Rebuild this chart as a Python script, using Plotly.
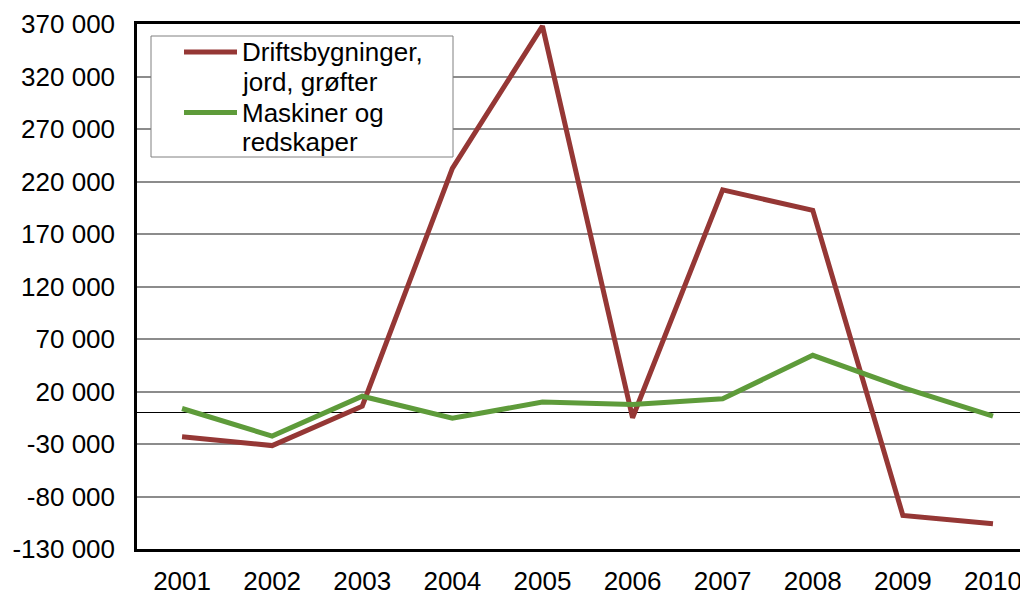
import plotly.graph_objects as go

years = [2001, 2002, 2003, 2004, 2005, 2006, 2007, 2008, 2009, 2010]
drifts = [-23000, -31500, 6000, 232500, 368000, -5000, 212000, 192500, -98000, -106000]
maskiner = [3800, -22500, 15500, -5500, 10000, 7700, 13000, 54500, 23600, -3500]

ytick_vals = [-130000, -80000, -30000, 20000, 70000, 120000, 170000, 220000, 270000, 320000, 370000]
ytick_text = ["-130 000", "-80 000", "-30 000", "20 000", "70 000", "120 000", "170 000",
              "220 000", "270 000", "320 000", "370 000"]

red_lines = ["Driftsbygninger,", "jord, grøfter"]
green_lines = ["Maskiner og", "redskaper"]
RED = "#953735"
GREEN = "#5e9b3a"

W, H = 1020, 593
ML, MR, MT, MB = 137, 0, 24, 44
PW, PH = W - ML - MR, H - MT - MB


def px(xp):
    return (xp - ML) / PW


def py(yp):
    return (H - MB - yp) / PH


fig = go.Figure()
fig.add_trace(go.Scatter(x=years, y=drifts, mode="lines", name=" ".join(red_lines),
                         line=dict(color=RED, width=5), showlegend=False))
fig.add_trace(go.Scatter(x=years, y=maskiner, mode="lines", name=" ".join(green_lines),
                         line=dict(color=GREEN, width=5), showlegend=False))

fig.update_layout(
    width=W, height=H,
    margin=dict(l=ML, r=MR, t=MT, b=MB, autoexpand=False),
    paper_bgcolor="white", plot_bgcolor="white",
    font=dict(family="Liberation Sans, Arial, sans-serif", size=26, color="black"),
    showlegend=False,
)
fig.update_xaxes(
    range=[2000.5, 2010.3], tickvals=years, ticktext=[str(y) for y in years],
    showgrid=False, showline=True, linecolor="black", linewidth=2.5,
    mirror=True, ticks="", ticklabelstandoff=7, zeroline=False, automargin=False,
    ticklabeloverflow="allow",
)
fig.update_yaxes(
    range=[-130000, 370000], tickvals=ytick_vals, ticktext=ytick_text,
    showgrid=True, gridcolor="#8c8c8c", gridwidth=1.5,
    showline=True, linecolor="black", linewidth=2.5, mirror=False,
    ticks="", ticklabelstandoff=14, automargin=False, ticklabeloverflow="allow",
    zeroline=True, zerolinecolor="black", zerolinewidth=1,
)

# legend box (drawn manually to match the original layout)
fig.add_shape(type="rect", xref="paper", yref="paper",
              x0=px(151), x1=px(453), y0=py(157), y1=py(36),
              fillcolor="white", line=dict(color="#808080", width=1), layer="above")
fig.add_shape(type="line", xref="paper", yref="paper",
              x0=px(184), x1=px(237), y0=py(52), y1=py(52),
              line=dict(color=RED, width=5), layer="above")
fig.add_shape(type="line", xref="paper", yref="paper",
              x0=px(184), x1=px(237), y0=py(112.5), y1=py(112.5),
              line=dict(color=GREEN, width=5), layer="above")
for txt, yc in zip(red_lines + green_lines, [52, 81.5, 112.5, 142]):
    fig.add_annotation(xref="paper", yref="paper", x=px(240), y=py(yc),
                       xanchor="left", yanchor="middle", text=txt, showarrow=False,
                       font=dict(size=26, color="black"))

fig.write_html("out.html", config={"displayModeBar": False},
               post_script="document.body.style.margin='0';")
